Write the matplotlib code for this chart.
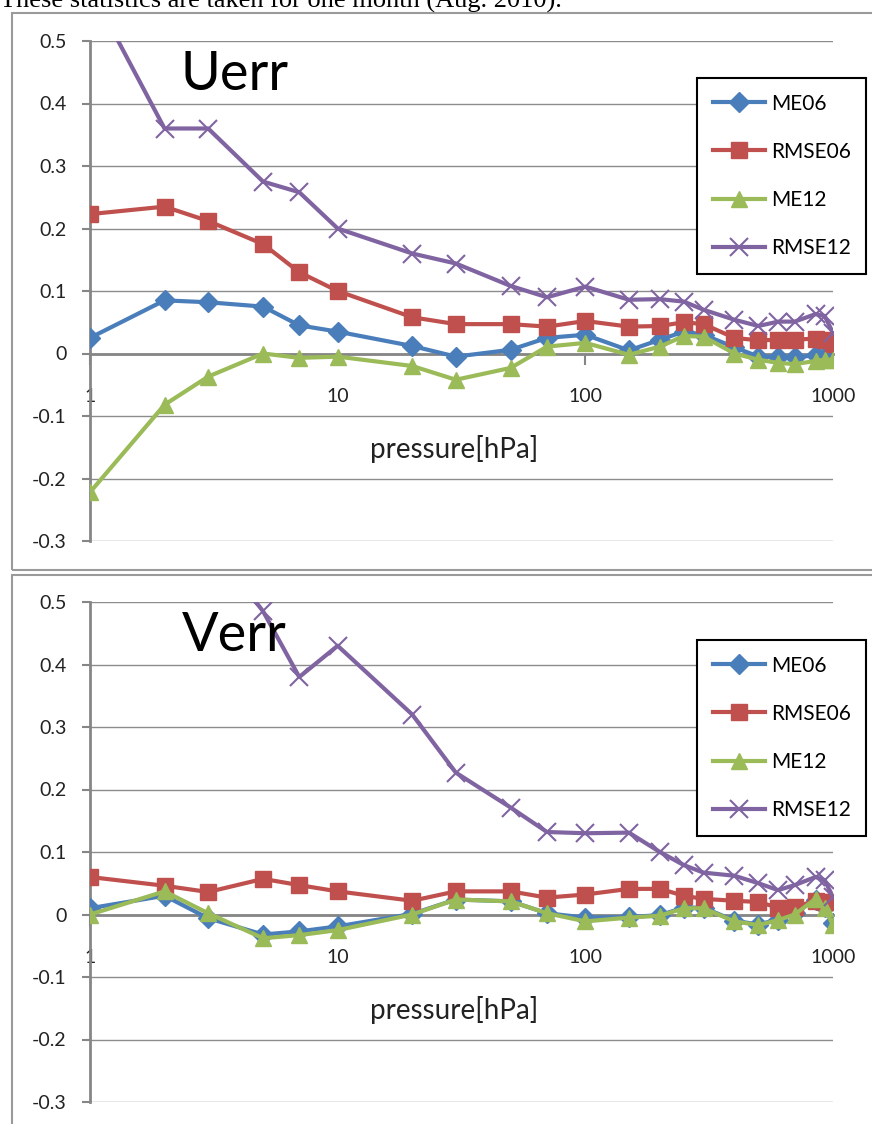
import numpy as np
import matplotlib.pyplot as plt
from matplotlib.patches import Rectangle

plt.rcParams['font.family'] = ['Lato', 'DejaVu Sans']

pressure = [1, 2, 3, 5, 7, 10, 20, 30, 50, 70, 100, 150, 200, 250, 300,
            400, 500, 600, 700, 850, 925, 1000]

# Uerr
u_me06 = [0.025, 0.085, 0.082, 0.075, 0.045, 0.035, 0.012, -0.005, 0.006, 0.025, 0.03,
          0.005, 0.022, 0.035, 0.03, 0.01, -0.005, -0.005, -0.006, -0.003, -0.004, -0.007]
u_rmse06 = [0.223, 0.235, 0.212, 0.175, 0.13, 0.1, 0.058, 0.047, 0.047, 0.043, 0.052,
            0.043, 0.044, 0.05, 0.047, 0.025, 0.021, 0.022, 0.022, 0.024, 0.022, 0.016]
u_me12 = [-0.222, -0.082, -0.037, 0.0, -0.007, -0.005, -0.02, -0.042, -0.023, 0.011, 0.017,
          -0.002, 0.011, 0.028, 0.027, 0.0, -0.01, -0.015, -0.017, -0.012, -0.01, -0.01]
u_rmse12 = [0.585, 0.36, 0.36, 0.275, 0.258, 0.2, 0.16, 0.144, 0.108, 0.09, 0.107,
            0.086, 0.087, 0.083, 0.07, 0.054, 0.044, 0.051, 0.051, 0.063, 0.06, 0.033]

# Verr
v_me06 = [0.01, 0.03, -0.006, -0.032, -0.027, -0.019, 0.001, 0.024, 0.021, 0.002, -0.005,
          -0.004, -0.001, 0.011, 0.011, -0.01, -0.016, -0.008, 0.002, 0.024, 0.012, -0.014]
v_rmse06 = [0.06, 0.046, 0.036, 0.057, 0.047, 0.037, 0.022, 0.037, 0.037, 0.027, 0.032,
            0.041, 0.041, 0.03, 0.025, 0.022, 0.02, 0.011, 0.012, 0.022, 0.02, 0.02]
v_me12 = [0.0, 0.037, 0.002, -0.038, -0.033, -0.025, 0.0, 0.024, 0.021, 0.002, -0.011,
          -0.005, -0.002, 0.01, 0.01, -0.011, -0.017, -0.009, 0.0, 0.025, 0.01, -0.017]
v_rmse12 = [0.8, 0.7, 0.6, 0.485, 0.38, 0.43, 0.32, 0.227, 0.171, 0.132, 0.13,
            0.131, 0.1, 0.079, 0.067, 0.062, 0.05, 0.039, 0.047, 0.06, 0.055, 0.028]

labels = ['ME06', 'RMSE06', 'ME12', 'RMSE12']
colors = ['#4a7ebb', '#c0504d', '#9bbb59', '#8064a2']
markers = ['D', 's', '^', 'x']
msizes = [10, 12, 12, 13]

yticks = [-0.3, -0.2, -0.1, 0, 0.1, 0.2, 0.3, 0.4, 0.5]
ytick_labels = ['-0.3', '-0.2', '-0.1', '0', '0.1', '0.2', '0.3', '0.4', '0.5']

W, H = 872, 1124
fig = plt.figure(figsize=(W / 100, H / 100), dpi=100)


def px(x0, y0, x1, y1):
    # pixel box (top-left origin) -> figure fraction rect
    return [x0 / W, 1 - y1 / H, (x1 - x0) / W, (y1 - y0) / H]


fig.text(0.0, 1 - 8 / H, 'These statistics are taken for one month (Aug. 2010).',
         family='Liberation Serif', fontsize=19, va='baseline', ha='left')

# panel frames
for y0, y1 in [(13, 570), (575, 1130)]:
    fig.patches.append(Rectangle((12 / W, 1 - y1 / H), (W + 5 - 12) / W, (y1 - y0) / H,
                                 transform=fig.transFigure, fill=False,
                                 edgecolor='#9a9a9a', linewidth=1.5))


def panel(rect, title, series, leg_top):
    ax = fig.add_axes(rect)
    for vals, lab, c, m, ms in zip(series, labels, colors, markers, msizes):
        mew = 1.5 if m == 'x' else 1
        ax.plot(pressure, vals, color=c, lw=3, marker=m, ms=ms, mew=mew,
                mec=c, mfc=c, label=lab, zorder=3)
    ax.set_xscale('log')
    ax.set_xlim(1, 1000)
    ax.set_ylim(-0.3, 0.5)
    for s in ['top', 'right']:
        ax.spines[s].set_visible(False)
    ax.spines['bottom'].set_position(('data', 0))
    ax.spines['bottom'].set_color('#868686')
    ax.spines['bottom'].set_linewidth(2)
    ax.spines['left'].set_color('#868686')
    ax.spines['left'].set_linewidth(2)
    ax.set_yticks(yticks)
    ax.set_yticklabels(ytick_labels)
    ax.set_xticks([1, 10, 100, 1000])
    ax.set_xticklabels(['1', '10', '100', '1000'])
    ax.minorticks_off()
    ax.tick_params(axis='y', length=6, width=1.5, color='#868686', pad=11,
                   labelsize=14, labelcolor='#222222')
    ax.tick_params(axis='x', length=8, width=1.5, color='#868686', pad=17,
                   labelsize=14, labelcolor='#222222')
    ax.grid(axis='y', color='#8c8c8c', lw=1)
    ax.set_axisbelow(True)
    ax.text(0.194, 0.982, title, transform=ax.transAxes, fontsize=39,
            va='top', ha='center')
    ax.text(0.49, 0.184, 'pressure[hPa]', transform=ax.transAxes, fontsize=20,
            ha='center', va='center', color='#222222')
    leg = ax.legend(loc='upper left', bbox_to_anchor=(697 / W, 1 - leg_top / H),
                    bbox_transform=fig.transFigure, fontsize=15, frameon=True,
                    fancybox=False, edgecolor='black', handlelength=2.5,
                    labelspacing=1.35, borderpad=0.75, handletextpad=0.3,
                    borderaxespad=0)
    leg.get_frame().set_linewidth(1.5)
    leg.get_frame().set_alpha(1)
    return ax


panel(px(90, 41, 833, 541), 'Uerr', [u_me06, u_rmse06, u_me12, u_rmse12], 78)
panel(px(90, 602, 833, 1102), 'Verr', [v_me06, v_rmse06, v_me12, v_rmse12], 640)

fig.savefig('out.png', dpi=100)
